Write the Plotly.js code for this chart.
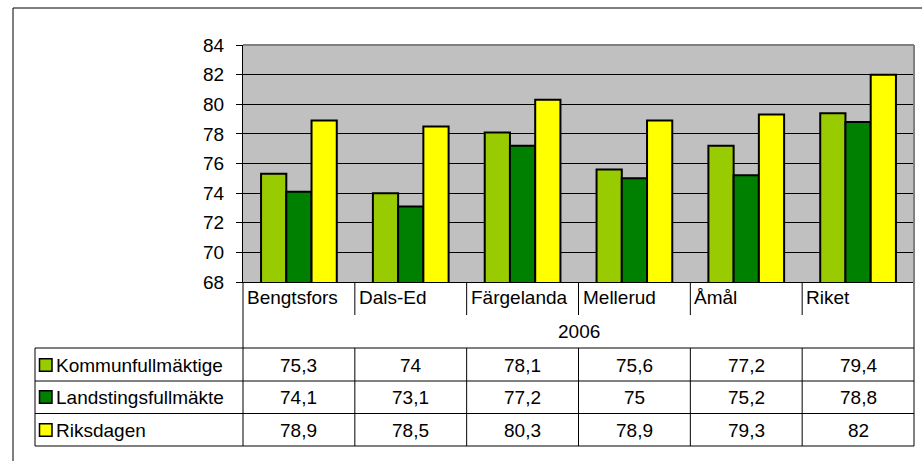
<!DOCTYPE html>
<html>
<head>
<meta charset="utf-8">
<script src="https://cdn.plot.ly/plotly-3.0.1.min.js"></script>
<style>html,body{margin:0;padding:0;background:#fff;}#chart{width:922px;height:461px;}</style>
</head>
<body>
<div id="chart"></div>
<script>
var categories = ['Bengtsfors', 'Dals-Ed', 'Färgelanda', 'Mellerud', 'Åmål', 'Riket'];
var groupLabel = '2006';
var seriesNames = ['Kommunfullmäktige', 'Landstingsfullmäkte', 'Riksdagen'];
var kommun = [75.3, 74, 78.1, 75.6, 77.2, 79.4];
var landsting = [74.1, 73.1, 77.2, 75, 75.2, 78.8];
var riksdag = [78.9, 78.5, 80.3, 78.9, 79.3, 82];
var seriesValues = [kommun, landsting, riksdag];
var seriesColors = ['#99CC00', '#008000', '#FFFF00'];

var FONT = 'Liberation Sans, Arial, sans-serif';
var FS = 19;

// pixel helpers for the plot frame (margins below)
var L = 243, R = 8, T = 45, B = 179, W = 922, H = 461;
var PW = W - L - R, PH = H - T - B;
function px(X) { return (X - L) / PW; }
function py(Y) { return (H - B - Y) / PH; }

var traces = seriesNames.map(function (n, i) {
  return {
    type: 'bar', name: n, x: categories, y: seriesValues[i],
    marker: {color: seriesColors[i], line: {color: '#000', width: 2}},
    hoverinfo: 'skip'
  };
});

var shapes = [];
var annotations = [];
function line(xref, x0, x1, yref, y0, y1, color, width) {
  shapes.push({type: 'line', xref: xref, yref: yref, x0: x0, x1: x1, y0: y0, y1: y1,
    line: {color: color || '#000', width: width || 1}, layer: 'above'});
}

// row geometry (pixel Y)
var headerBottom = 315, rowLines = [348, 381, 413.5, 446];
var headerCenter = 297, groupCenter = 331;
var rowCenters = [365, 397, 430];

// plot frame grey top and right border
line('paper', 0, 1, 'paper', 1, 1, '#808080', 2);
line('paper', 1, 1, 'paper', 1, py(446), '#808080', 2);
// left axis extension into table
line('paper', 0, 0, 'paper', 0, py(446), '#000', 1);
// category separators
for (var i = 0; i < categories.length - 1; i++) {
  line('x', i + 0.5, i + 0.5, 'paper', 0, py(headerBottom));
  line('x', i + 0.5, i + 0.5, 'paper', py(rowLines[0]), py(rowLines[3]));
}
// horizontal table lines
rowLines.forEach(function (Y) { line('paper', px(35), 1, 'paper', py(Y), py(Y)); });
line('paper', px(35), px(35), 'paper', py(rowLines[0]), py(rowLines[3]));
// outer chart frame
line('paper', px(13), 1.05, 'paper', py(8), py(8));
line('paper', px(13), px(13), 'paper', py(8), -1);

// header category labels
categories.forEach(function (c, i) {
  annotations.push({xref: 'x', yref: 'paper', x: i - 0.5, y: py(headerCenter), text: c,
    xanchor: 'left', yanchor: 'middle', showarrow: false, xshift: 2,
    font: {family: FONT, size: FS, color: '#000'}});
});
annotations.push({xref: 'paper', yref: 'paper', x: 0.5, y: py(groupCenter), text: groupLabel,
  xanchor: 'center', yanchor: 'middle', showarrow: false,
  font: {family: FONT, size: FS, color: '#000'}});

// data rows
seriesNames.forEach(function (n, s) {
  var yc = py(rowCenters[s]);
  seriesValues[s].forEach(function (v, i) {
    annotations.push({xref: 'x', yref: 'paper', x: categories[i], y: yc,
      text: String(v).replace('.', ','), xanchor: 'center', yanchor: 'middle', showarrow: false,
      font: {family: FONT, size: FS, color: '#000'}});
  });
  // legend key
  shapes.push({type: 'rect', xref: 'paper', yref: 'paper', x0: px(39.5), x1: px(52), 
    y0: yc - 6.3 / PH, y1: yc + 6.3 / PH, fillcolor: seriesColors[s],
    line: {color: '#000', width: 1.5}, layer: 'above'});
  annotations.push({xref: 'paper', yref: 'paper', x: px(53.5), y: yc, text: n,
    xanchor: 'left', yanchor: 'middle', showarrow: false,
    font: {family: FONT, size: FS, color: '#000'}});
});

var layout = {
  width: W, height: H,
  margin: {l: L, r: R, t: T, b: B, pad: 0},
  paper_bgcolor: '#fff', plot_bgcolor: '#C0C0C0',
  showlegend: false,
  barmode: 'group', bargap: 0.323, bargroupgap: 0,
  xaxis: {type: 'category', showticklabels: false, ticks: '', showgrid: false,
    showline: true, linecolor: '#000', linewidth: 1, zeroline: false, fixedrange: true},
  yaxis: {range: [68, 84], dtick: 2, tick0: 68, ticks: 'outside', ticklen: 6, tickcolor: '#000',
    showline: true, linecolor: '#000', linewidth: 1, gridcolor: '#000', gridwidth: 1,
    zeroline: false, ticklabelstandoff: 8,
    tickfont: {family: FONT, size: FS, color: '#000'}, fixedrange: true},
  shapes: shapes, annotations: annotations,
  font: {family: FONT, size: FS, color: '#000'}
};

Plotly.newPlot('chart', traces, layout, {displayModeBar: false, staticPlot: true});
</script>
</body>
</html>
